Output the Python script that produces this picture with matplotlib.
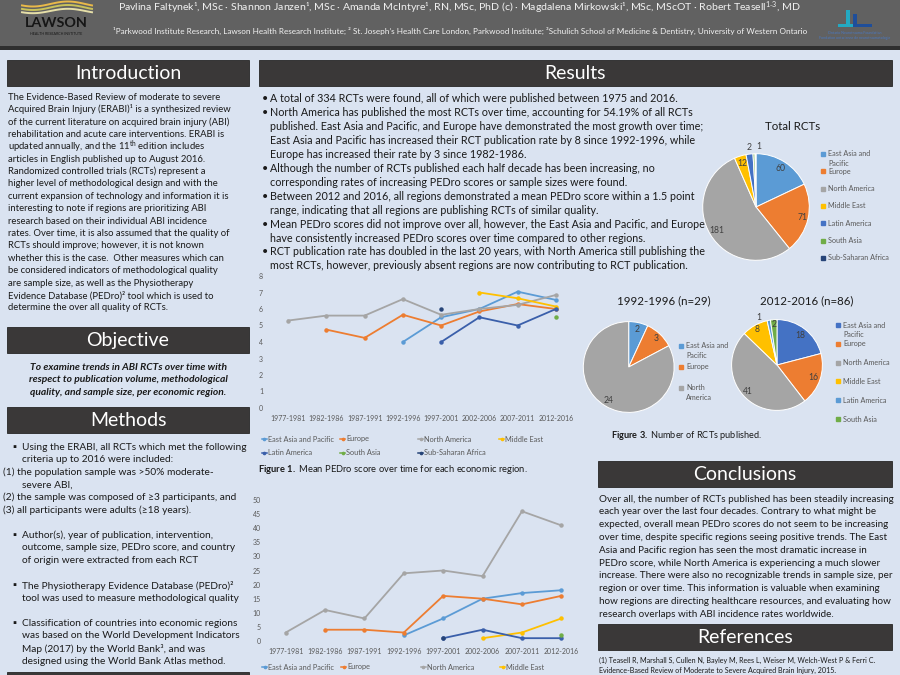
import matplotlib
matplotlib.use('Agg')
import numpy as np
import matplotlib.pyplot as plt
from matplotlib.patches import Rectangle, Polygon


plt.rcParams['font.family'] = ['Lato', 'DejaVu Sans']
plt.rcParams['mathtext.fontset'] = 'custom'
plt.rcParams['mathtext.rm'] = 'Lato'
plt.rcParams['mathtext.it'] = 'Lato:italic'
plt.rcParams['mathtext.bf'] = 'Lato:bold'

W, H = 900, 675
BG = '#DAE3F1'
INK = '#1A1A1A'
AXIS_INK = '#595959'
BAR = '#3A3838'

nan = np.nan
periods = ['1977-1981', '1982-1986', '1987-1991', '1992-1996',
           '1997-2001', '2002-2006', '2007-2011', '2012-2016']
regions = ['East Asia and Pacific', 'Europe', 'North America', 'Middle East',
           'Latin America', 'South Asia', 'Sub-Saharan Africa']
region_colors = ['#5B9BD5', '#ED7D31', '#A5A5A5', '#FFC000',
                 '#3A5FAA', '#70AD47', '#264478']

# mean PEDro score per half decade
pedro_eap = [nan, nan, nan, 4.0, 5.5, 6.0, 7.05, 6.55]
pedro_eur = [nan, 4.75, 4.25, 5.65, 5.0, 5.85, 6.3, 6.0]
pedro_na = [5.3, 5.6, 5.6, 6.6, 5.65, 6.0, 6.25, 6.85]
pedro_me = [nan, nan, nan, nan, nan, 7.0, 6.65, 6.15]
pedro_la = [nan, nan, nan, nan, 4.0, 5.5, 5.0, 6.0]
pedro_sa = [nan, nan, nan, nan, nan, nan, nan, 5.5]
pedro_ssa = [nan, nan, nan, nan, 6.0, nan, nan, nan]

# number of RCTs per half decade
rcts_eap = [nan, nan, nan, 2, 8, 15, 17, 18]
rcts_eur = [nan, 4, 4, 3, 16, 15, 13, 16]
rcts_na = [3, 11, 8, 24, 25, 23, 46, 41]
rcts_me = [nan, nan, nan, nan, nan, 1, 3, 8]
rcts_la = [nan, nan, nan, nan, 1, 4, 1, 1]
rcts_sa = [nan, nan, nan, nan, nan, nan, nan, 2]
rcts_ssa = [nan, nan, nan, nan, 1, nan, nan, nan]

# pies
total_rcts = [60, 71, 181, 12, 7, 2, 1]
total_colors = ['#5B9BD5', '#ED7D31', '#A5A5A5', '#FFC000', '#4472C4', '#70AD47', '#264478']
total_legend = ['East Asia and\nPacific', 'Europe', 'North America', 'Middle East',
                'Latin America', 'South Asia', 'Sub-Saharan Africa']
rcts_1992 = [2, 3, 24]
colors_1992 = ['#5B9BD5', '#ED7D31', '#A5A5A5']
legend_1992 = ['East Asia and\nPacific', 'Europe', 'North\nAmerica']
rcts_2012 = [18, 16, 41, 8, 1, 2]
colors_2012 = ['#4472C4', '#ED7D31', '#A5A5A5', '#FFC000', '#5B9BD5', '#70AD47']
legend_2012 = ['East Asia and\nPacific', 'Europe', 'North America', 'Middle East',
               'Latin America', 'South Asia']

authors = ('Pavlina Faltynek¹, MSc · Shannon Janzen¹, MSc · Amanda McIntyre¹, RN, MSc, PhD (c) · '
           'Magdalena Mirkowski¹, MSc, MScOT · Robert Teasell$^{\\rm 1‑3}$, MD')
affil = ('¹Parkwood Institute Research, Lawson Health Research Institute; ² St. Joseph\u2019s Health Care '
         'London, Parkwood Institute; ³Schulich School of Medicine & Dentistry, University of Western Ontario')

intro = [
    'The Evidence-Based Review of moderate to severe',
    'Acquired Brain Injury (ERABI)¹ is a synthesized review',
    'of the current literature on acquired brain injury (ABI)',
    'rehabilitation and acute care interventions. ERABI is',
    'updated annually, and the 11$^{\\rm th}$ edition includes',
    'articles in English published up to August 2016.',
    'Randomized controlled trials (RCTs) represent a',
    'higher level of methodological design and with the',
    'current expansion of technology and information it is',
    'interesting to note if regions are prioritizing ABI',
    'research based on their individual ABI incidence',
    'rates. Over time, it is also assumed that the quality of',
    'RCTs should improve; however, it is not known',
    'whether this is the case.  Other measures which can',
    'be considered indicators of methodological quality',
    'are sample size, as well as the Physiotherapy',
    'Evidence Database (PEDro)² tool which is used to',
    'determine the over all quality of RCTs.',
]
objective = [
    'To examine trends in ABI RCTs over time with',
    'respect to publication volume, methodological',
    'quality, and sample size, per economic region.',
]
# (marker, text) per line; None marks a gap line
methods = [
    ('▪', 'Using the ERABI, all RCTs which met the following'),
    ('', 'criteria up to 2016 were included:'),
    ('(', '(1) the population sample was >50% moderate-'),
    ('', 'severe ABI,'),
    ('(', '(2) the sample was composed of ≥3 participants, and'),
    ('(', '(3) all participants were adults (≥18 years).'),
    None,
    ('▪', 'Author(s), year of publication, intervention,'),
    ('', 'outcome, sample size, PEDro score, and country'),
    ('', 'of origin were extracted from each RCT'),
    None,
    ('▪', 'The Physiotherapy Evidence Database (PEDro)²'),
    ('', 'tool was used to measure methodological quality'),
    None,
    ('▪', 'Classification of countries into economic regions'),
    ('', 'was based on the World Development Indicators'),
    ('', 'Map (2017) by the World Bank³, and was'),
    ('', 'designed using the World Bank Atlas method.'),
]
results = [
    ('•', 'A total of 334 RCTs were found, all of which were published between 1975 and 2016.'),
    ('•', 'North America has published the most RCTs over time, accounting for 54.19% of all RCTs'),
    ('', 'published. East Asia and Pacific, and Europe have demonstrated the most growth over time;'),
    ('', 'East Asia and Pacific has increased their RCT publication rate by 8 since 1992-1996, while'),
    ('', 'Europe has increased their rate by 3 since 1982-1986.'),
    ('•', 'Although the number of RCTs published each half decade has been increasing, no'),
    ('', 'corresponding rates of increasing PEDro scores or sample sizes were found.'),
    ('•', 'Between 2012 and 2016, all regions demonstrated a mean PEDro score within a 1.5 point'),
    ('', 'range, indicating that all regions are publishing RCTs of similar quality.'),
    ('•', 'Mean PEDro scores did not improve over all, however, the East Asia and Pacific, and Europe'),
    ('', 'have consistently increased PEDro scores over time compared to other regions.'),
    ('•', 'RCT publication rate has doubled in the last 20 years, with North America still publishing the'),
    ('', 'most RCTs, however, previously absent regions are now contributing to RCT publication.'),
]
conclusions = [
    'Over all, the number of RCTs published has been steadily increasing',
    'each year over the last four decades. Contrary to what might be',
    'expected, overall mean PEDro scores do not seem to be increasing',
    'over time, despite specific regions seeing positive trends. The East',
    'Asia and Pacific region has seen the most dramatic increase in',
    'PEDro score, while North America is experiencing a much slower',
    'increase. There were also no recognizable trends in sample size, per',
    'region or over time. This information is valuable when examining',
    'how regions are directing healthcare resources, and evaluating how',
    'research overlaps with ABI incidence rates worldwide.',
]
references = [
    '(1) Teasell R, Marshall S, Cullen N, Bayley M, Rees L, Weiser M, Welch-West P & Ferri C.',
    'Evidence-Based Review of Moderate to Severe Acquired Brain Injury, 2015.',
]


fig = plt.figure(figsize=(9, 6.75), dpi=100, facecolor=BG)
bg = fig.add_axes([0, 0, 1, 1])
bg.set_xlim(0, W)
bg.set_ylim(H, 0)
bg.axis('off')
renderer = fig.canvas.get_renderer()


def px_axes(x0, y0, x1, y1):
    ax = fig.add_axes([x0 / W, 1 - y1 / H, (x1 - x0) / W, (y1 - y0) / H])
    ax.patch.set_alpha(0)
    return ax


def txt(x, y, s, size, **kw):
    kw.setdefault('color', INK)
    kw.setdefault('va', 'center')
    return bg.text(x, y, s, fontsize=size, **kw)


def fit_size(s, width, **kw):
    # font size that makes s about width pixels wide
    t = bg.text(0, 0, s, fontsize=10, **kw)
    w = t.get_window_extent(renderer).width
    t.remove()
    return 10 * width / w


def section(x0, x1, y0, y1, title, size):
    bg.add_patch(Rectangle((x0, y0), x1 - x0, y1 - y0, facecolor=BAR,
                           edgecolor='#262626', lw=0.6))
    txt((x0 + x1) / 2, (y0 + y1) / 2 + 0.5, title, size, color='white', ha='center')


# header band
bg.add_patch(Rectangle((0, 0), W, 46, facecolor='#616161', lw=0))
bg.add_patch(Rectangle((0, 46), W, 4, facecolor='#2E2E2E', lw=0))
txt(459, 8, authors, fit_size(authors, 678), color='#F2F2F2', ha='center')
txt(460, 31, affil, fit_size(affil, 688), color='#F2F2F2', ha='center')

# Lawson logo
wx = np.linspace(22, 92, 60)
for base, amp, c in [(4, 2.5, '#E9B949'), (7.5, 2.5, '#C9C25A'), (11, 2.2, '#E6DFA8')]:
    bg.plot(wx, base + amp * np.sin((wx - 22) / 70 * 2 * np.pi + 0.6), color=c, lw=1.4)
txt(56, 23, 'LAWSON', fit_size('LAWSON', 63, fontweight='bold'), fontweight='bold',
    color='#161616', ha='center')
txt(56, 34, 'HEALTH RESEARCH INSTITUTE', 2.6, color='#161616', ha='center')

# ONF logo
bg.add_patch(Polygon([(846, 10), (850, 10), (850, 24), (859, 24), (859, 27), (838, 27), (838, 24), (846, 24)],
                     closed=True, facecolor='#23A9C2', lw=0))
bg.add_patch(Polygon([(853, 14), (857, 14), (857, 24), (872, 24), (872, 27), (853, 27)],
                     closed=True, facecolor='#1F4E9A', lw=0))
txt(855, 33, 'Ontario Neurotrauma Foundation', 2.6, color='#4A78C0', ha='center')
txt(855, 38, 'Fondation ontarienne de neurotraumatologie', 2.6, color='#4A78C0', ha='center')

title_size = fit_size('Introduction', 107)
section(7, 249, 60, 86, 'Introduction', title_size)
section(7, 249, 327, 353, 'Objective', title_size)
section(7, 249, 407, 433, 'Methods', title_size)
section(259, 892, 60, 86, 'Results', title_size)
section(598, 892, 461, 487, 'Conclusions', title_size)
section(598, 892, 624, 650, 'References', title_size)
bg.add_patch(Rectangle((7, 672), 242, 10, facecolor=BAR, edgecolor='#262626', lw=0.6))

# left column text
s = fit_size(intro[0], 214)
for i, line in enumerate(intro):
    txt(8, 97 + i * 12.4, line, s)

s = fit_size(objective[0], 196, fontweight='bold', fontstyle='italic')
for i, line in enumerate(objective):
    txt(128, 367 + i * 12.8, line, s, ha='center', fontweight='bold', fontstyle='italic')

s = fit_size(methods[0][1], 225)
for i, item in enumerate(methods):
    if item is None:
        continue
    mark, line = item
    y = 447 + i * 12.6
    if mark == '▪':
        txt(12, y, mark, s)
    txt(3 if mark == '(' else 22, y, line, s)

# results text
s = fit_size(results[2][1], 434)
for i, (mark, line) in enumerate(results):
    y = 98.5 + i * 13.95
    if mark:
        txt(262, y, mark, s)
    txt(270, y, line, s)

# conclusions and references
s = fit_size(conclusions[0], 293)
for i, line in enumerate(conclusions):
    txt(599, 499 + i * 12.8, line, s)
s = fit_size(references[0], 276)
for i, line in enumerate(references):
    txt(599, 660 + i * 10.5, line, s)


# line charts
def line_chart(box, series, ymax, ystep, ypad):
    ax = px_axes(*box)
    xs = np.arange(len(periods))
    for vals, color in zip(series, region_colors):
        ax.plot(xs, vals, color=color, lw=1.3, marker='o', ms=2.2)
    ax.set_xlim(-0.5, len(periods) - 0.5)
    ax.set_ylim(0, ymax)
    ax.set_yticks(np.arange(0, ymax + 1, ystep))
    ax.set_xticks(xs, periods)
    ax.tick_params(length=0, labelsize=5.0, labelcolor=AXIS_INK)
    ax.tick_params(axis='y', pad=ypad)
    ax.tick_params(axis='x', pad=5)
    for sp in ax.spines.values():
        sp.set_visible(False)
    return ax


def line_legend(xs, ys, labels, colors, size):
    for x, y, lab, c in zip(xs, ys, labels, colors):
        bg.plot([x, x + 5], [y, y], color=c, lw=1.1)
        bg.plot(x + 2.5, y, 'o', color=c, ms=1.6)
        txt(x + 6, y, lab, size, color=AXIS_INK)


leg_size = fit_size(regions[0], 66)
line_chart((269, 276, 575, 408),
           [pedro_eap, pedro_eur, pedro_na, pedro_me, pedro_la, pedro_sa, pedro_ssa], 8, 1, 4.3)
line_legend([261.7, 340, 418.3, 499.3, 261.7, 340, 418.3], [439] * 4 + [452.7] * 3,
            regions, region_colors, leg_size)
cap = '$\\mathbf{Figure\\ 1.}$ Mean PEDro score over time for each economic region.'
txt(258, 470, cap, fit_size(cap, 270))

line_chart((266, 500, 581, 641),
           [rcts_eap, rcts_eur, rcts_na, rcts_me, rcts_la, rcts_sa, rcts_ssa], 50, 5, 3.6)
line_legend([262.3, 341, 420.7, 500], [667] * 4, regions[:4], region_colors[:4], leg_size)


# pies
def pie(cx, cy, r, values, colors, dists, nudges):
    ax = px_axes(cx - r, cy - r, cx + r, cy + r)
    wedges, _ = ax.pie(values, colors=colors, startangle=90, counterclock=False,
                       wedgeprops=dict(edgecolor='white', linewidth=0.7))
    ax.set_xlim(-1, 1)
    ax.set_ylim(-1, 1)
    for w, v, d, n in zip(wedges, values, dists, nudges):
        if d is None:
            continue
        ang = np.deg2rad((w.theta1 + w.theta2) / 2 + n)
        ax.text(d * np.cos(ang), d * np.sin(ang), str(v), ha='center', va='center',
                fontsize=6.2, color='#404040')


def pie_legend(x, y0, dy, line_h, labels, colors, size):
    for i, (lab, c) in enumerate(zip(labels, colors)):
        y = y0 + i * dy
        bg.plot(x, y, 's', color=c, ms=3.2)
        for j, part in enumerate(lab.split('\n')):
            txt(x + 5, y + j * line_h, part, size, color=AXIS_INK)


pleg = fit_size('North America', 47)
ptitle = fit_size('1992-1996 (n=29)', 93)

txt(793, 126, 'Total RCTs', ptitle, ha='center')
pie(756, 207, 53.3, total_rcts, total_colors,
    [0.86, 0.9, 0.86, 0.86, None, 1.13, 1.13], [0, 0, 0, 0, 0, 4, -3])
pie_legend(823, 154, 17.3, 9.3, total_legend, total_colors, pleg)

txt(664, 301, '1992-1996 (n=29)', ptitle, ha='center')
pie(628.7, 367, 45.4, rcts_1992, colors_1992, [0.85, 0.87, 0.85], [0, 0, 0])
pie_legend(681, 345.7, 21, 9.5, legend_1992, colors_1992, pleg)

txt(807, 301, '2012-2016 (n=86)', ptitle, ha='center')
pie(777, 365, 45.4, rcts_2012, colors_2012,
    [0.83, 0.84, 0.87, 0.9, 1.12, 0.89], [0, 0, 0, 0, 11, 0])
pie_legend(838, 325, 18.8, 9.3, legend_2012, colors_2012, pleg)

cap = '$\\mathbf{Figure\\ 3.}$ Number of RCTs published.'
txt(611, 436, cap, fit_size(cap, 150))

fig.savefig('out.png', dpi=100, facecolor=BG)
